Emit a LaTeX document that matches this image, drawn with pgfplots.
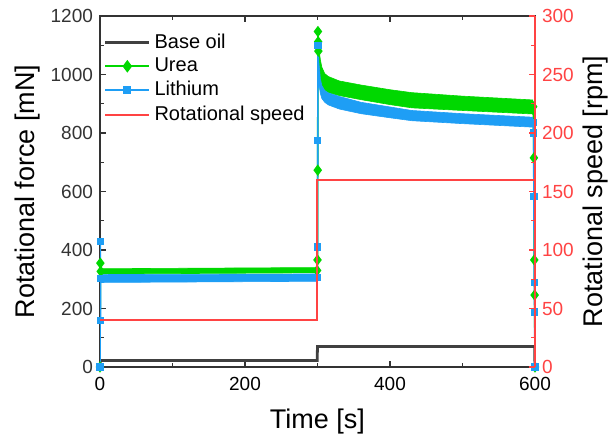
\documentclass[border=0pt]{standalone}
\usepackage{fontspec}
\setmainfont{Liberation Sans}
\usepackage{pgfplots}
\pgfplotsset{compat=1.18}
\definecolor{baseoil}{HTML}{404040}
\definecolor{urea}{HTML}{00D800}
\definecolor{lith}{HTML}{1E9EF5}
\definecolor{speed}{HTML}{FF4343}
\definecolor{axgray}{HTML}{333333}

\pgfplotsset{
  frame/.style={
    scale only axis, width=217.5pt, height=175.5pt,
    xmin=0, xmax=600,
    tick align=inside,
    major tick length=3pt, minor tick length=1.8pt,
    /pgf/number format/assume math mode=true,
    /pgf/number format/1000 sep={},
    ticklabel style={font=\fontsize{9.5}{11}\selectfont},
    label style={font=\fontsize{13.5}{16}\selectfont, inner sep=0pt},
  },
}

\begin{document}
\begin{tikzpicture}
\begin{axis}[
  frame, name=main,
  ymin=0, ymax=1200,
  xtick={0,200,400,600}, minor x tick num=1,
  ytick={0,200,...,1200}, minor y tick num=1,
  ytick pos=left,
  axis line style={axgray, line width=0.8pt},
  every tick/.style={axgray, line width=0.6pt},
  yticklabel style={axgray},
  xticklabel style={yshift=-1.5pt},
  xlabel={Time [s]},
  ylabel={Rotational force [mN]},
  xlabel style={at={(axis description cs:0.5,-0.154)}, anchor=center},
  ylabel style={at={(axis description cs:-0.166,0.5)}, anchor=center},
  legend style={at={(0.004,0.968)}, anchor=north west, draw=none, fill=none,
    font=\fontsize{10}{12}\selectfont, row sep=-0.6pt, inner sep=1pt},
  legend cell align=left,
  legend image code/.code={\draw[mark repeat=2, mark phase=2, #1]
    plot coordinates {(0pt,0pt) (11pt,0pt) (22pt,0pt)};},
]
\addlegendimage{baseoil, line width=1.2pt}
\addlegendentry{Base oil}
\addlegendimage{urea, line width=1.2pt, mark=diamond*, mark size=2.2pt}
\addlegendentry{Urea}
\addlegendimage{lith, line width=1.2pt, mark=square*, mark size=1.4pt}
\addlegendentry{Lithium}
\addlegendimage{speed, line width=1pt}
\addlegendentry{Rotational speed}

% Base oil
\addplot[baseoil, line width=1.4pt, forget plot] coordinates {
  (0,0) (0.5,22) (299.5,22) (300,70) (599.5,70) (600,0)
};

% Urea: noisy band drawn as envelopes
\addplot[fill=urea, draw=urea, line width=0.3pt, forget plot] coordinates {
  (1,318) (299.5,322) (299.5,340) (1,336) (1,318)
};
\addplot[fill=urea, draw=urea, line width=0.3pt, forget plot] coordinates {
  (300,1110) (302,1085) (304,1050) (306,1025) (310,1003) (315,993) (330,978)
  (360,964) (400,948) (430,938) (500,926) (597,913)
  (597,865) (500,877) (430,886) (400,897) (360,914) (330,928) (315,938)
  (310,947) (306,962) (304,982) (302,1010) (300,1040) (300,1110)
};
\addplot[urea, line width=0.8pt, mark=diamond*, mark size=2.2pt, forget plot] coordinates {
  (0,0) (0.5,355) (1,327)
};
\addplot[urea, line width=0.8pt, mark=diamond*, mark size=2.2pt, forget plot] coordinates {
  (299.5,330) (300,366) (300.3,673) (300.6,1147) (300.9,1112) (301.2,1080)
};
\addplot[urea, line width=0.8pt, mark=diamond*, mark size=2.2pt, forget plot] coordinates {
  (597.5,890) (598.5,715) (599,366) (599.5,246) (600,0)
};

% Lithium
\addplot[fill=lith, draw=lith, line width=0.3pt, forget plot] coordinates {
  (1,289) (299.5,293) (299.5,318) (1,316) (1,289)
};
\addplot[fill=lith, draw=lith, line width=0.3pt, forget plot] coordinates {
  (300,1100) (301,1090) (302,1040) (304,985) (306,962) (310,945) (315,937)
  (330,925) (360,905) (400,889) (430,877) (500,866) (597,854)
  (597,820) (500,832) (430,842) (400,852) (360,866) (330,882) (315,896)
  (310,905) (306,918) (304,935) (302,965) (301,1000) (300,1050) (300,1100)
};
\addplot[lith, line width=0.8pt, mark=square*, mark size=1.4pt, forget plot] coordinates {
  (0,0) (0.3,430) (0.6,160) (1,303)
};
\addplot[lith, line width=0.8pt, mark=square*, mark size=1.4pt, forget plot] coordinates {
  (299.5,305) (300,410) (300.4,773) (300.8,1100)
};
\addplot[lith, line width=0.8pt, mark=square*, mark size=1.4pt, forget plot] coordinates {
  (597.5,837) (598,800) (598.5,582) (599,288) (599.5,188) (600,0)
};
\end{axis}

\begin{axis}[
  frame,
  ymin=0, ymax=300,
  axis x line=none,
  axis y line*=right,
  ytick={0,50,...,300}, minor y tick num=1,
  y axis line style={-, speed, line width=0.8pt},
  every y tick/.style={speed, line width=0.6pt},
  yticklabel style={speed},
  ylabel={Rotational speed [rpm]},
  ylabel style={at={(axis description cs:1.138,0.5)}, anchor=center},
]
\addplot[speed, line width=1pt] coordinates {
  (0,40) (300,40) (300,160) (600,160) (600,0)
};
\end{axis}
% fix the page to the reference's margins round the axis box
\path (main.south west) ++(-50pt,-35.5pt);
\path (main.north east) ++(36.5pt,8pt);
\end{tikzpicture}
\end{document}
